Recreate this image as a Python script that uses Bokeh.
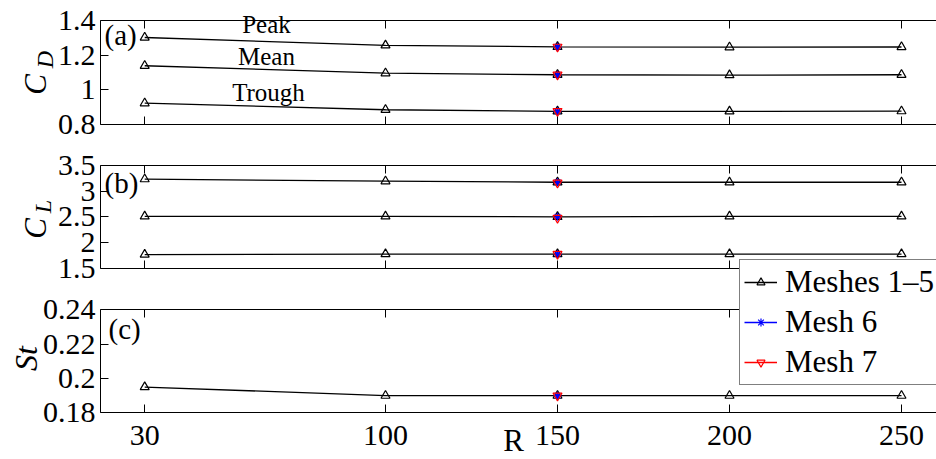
import numpy as np
from bokeh.plotting import figure
from bokeh.models import (Range1d, LinearAxis, FixedTicker, NumeralTickFormatter,
                          Label, Legend, LegendItem)
from bokeh.embed import file_html
from bokeh.resources import INLINE

# Reynolds numbers and force / shedding coefficients for meshes 1-5
R = [30, 100, 150, 200, 250]
cd_peak = [1.302, 1.257, 1.248, 1.246, 1.247]
cd_mean = [1.139, 1.096, 1.087, 1.085, 1.087]
cd_trough = [0.923, 0.885, 0.876, 0.876, 0.877]
cl_peak = [3.23, 3.19, 3.17, 3.17, 3.17]
cl_mean = [2.51, 2.51, 2.50, 2.51, 2.51]
cl_trough = [1.77, 1.78, 1.78, 1.78, 1.78]
st = [0.195, 0.190, 0.190, 0.190, 0.190]

# Refined meshes, run only at R = 150 (peak, mean, trough)
R_fine = 150
mesh6_cd = [1.248, 1.087, 0.876]
mesh7_cd = [1.248, 1.087, 0.877]
mesh6_cl = [3.17, 2.50, 1.78]
mesh7_cl = [3.16, 2.48, 1.78]
mesh6_st = [0.190]
mesh7_st = [0.190]

x_ticks = [30, 100, 150, 200, 250]
cd_ticks = [0.8, 1.0, 1.2, 1.4]
cl_ticks = [1.5, 2.0, 2.5, 3.0, 3.5]
st_ticks = [0.18, 0.20, 0.22, 0.24]

FONT = "Liberation Serif"
W, H = 936, 459

# horizontal scale: pixel positions of the first and last tick, and of the box edge
PX_FIRST, PX_LAST, PX_BOX = 144.2, 901.0, 100.0
px_per_x = (PX_LAST - PX_FIRST) / (x_ticks[-1] - x_ticks[0])
x_start = x_ticks[0] - PX_FIRST / px_per_x
x_end = x_start + W / px_per_x
x_box = x_start + PX_BOX / px_per_x


def y_range_for(lo, hi, px_top, px_bottom):
    # each panel box spans lo..hi between px_bottom and px_top (from canvas top)
    per = (px_bottom - px_top) / (hi - lo)
    return Range1d(lo - (H - px_bottom) / per, hi + px_top / per)


# three stacked panels share one canvas; each has its own vertical scale
panels = {
    "a": (0.8, 1.4, 20.0, 124.0, cd_ticks),
    "b": (1.5, 3.5, 164.7, 268.0, cl_ticks),
    "c": (0.18, 0.24, 309.3, 412.3, st_ticks),
}

p = figure(width=W, height=H, title=None,
           x_range=Range1d(x_start, x_end),
           y_range=y_range_for(*panels["a"][:4]),
           x_axis_location=None, y_axis_location=None,
           output_backend="svg", toolbar_location=None,
           min_border=0, min_border_left=0, min_border_right=0,
           min_border_top=0, min_border_bottom=0, outline_line_color=None,
           background_fill_color="white", border_fill_color="white")
p.grid.grid_line_color = None
p.grid.visible = False
p.extra_y_ranges = {k: y_range_for(*panels[k][:4]) for k in ("b", "c")}


def rname(k):
    return "default" if k == "a" else k


def style_axis(ax, ticks, labels=True, standoff=5):
    ax.ticker = FixedTicker(ticks=ticks)
    ax.axis_line_color = "black"
    ax.axis_line_width = 1
    ax.major_tick_line_color = "black"
    ax.major_tick_line_width = 1
    ax.major_tick_in = 8
    ax.major_tick_out = 0
    ax.minor_tick_line_color = None
    ax.major_label_text_font = FONT
    ax.major_label_text_font_size = "30px"
    ax.major_label_standoff = standoff
    ax.major_label_text_color = "black" if labels else None


for k, (lo, hi, _, _, yticks) in panels.items():
    left = LinearAxis(y_range_name=rname(k), fixed_location=x_box, bounds=(lo, hi))
    style_axis(left, yticks, labels=True)
    left.formatter = NumeralTickFormatter(format="0.[00]")
    p.add_layout(left, "left")
    top = LinearAxis(y_range_name=rname(k), fixed_location=hi, bounds=(x_box, x_end))
    style_axis(top, x_ticks, labels=False)
    p.add_layout(top, "above")
    bottom = LinearAxis(y_range_name=rname(k), fixed_location=lo, bounds=(x_box, x_end))
    style_axis(bottom, x_ticks, labels=(k == "c"), standoff=13)
    p.add_layout(bottom, "below")


def series(k, ys):
    l = p.line(R, ys, line_color="black", line_width=1.3, y_range_name=rname(k))
    s = p.scatter(R, ys, marker="triangle", size=9, line_color="black",
                  fill_color=None, line_width=1.2, y_range_name=rname(k))
    return l, s


def fine_points(k, y6, y7):
    xs = [R_fine] * len(y6)
    l6 = p.line(xs[:1], y6[:1], line_color="blue", line_width=1.3, y_range_name=rname(k))
    s6 = p.scatter(xs, y6, marker="asterisk", size=8, line_color="blue",
                   line_width=1.2, y_range_name=rname(k))
    l7 = p.line(xs[:1], y7[:1], line_color="red", line_width=1.3, y_range_name=rname(k))
    s7 = p.scatter(xs, y7, marker="inverted_triangle", size=9, line_color="red",
                   fill_color=None, line_width=1.2, y_range_name=rname(k))
    return (l6, s6), (l7, s7)


def text(s, x, y, size, italic=False, angle=0.0, align="left"):
    p.add_layout(Label(x=x, y=y, x_units="screen", y_units="screen", text=s,
                       text_font=FONT, text_font_size=size,
                       text_font_style="italic" if italic else "normal",
                       angle=angle, text_align=align, text_baseline="alphabetic",
                       text_color="black"))


UP = np.pi / 2

# (a) drag coefficient
for ys in (cd_peak, cd_mean, cd_trough):
    series("a", ys)
fine_points("a", mesh6_cd, mesh7_cd)
text("C", 35, 375, "31px", italic=True, angle=UP, align="center")
text("D", 44, 400, "24px", italic=True, angle=UP, align="center")
text("(a)", 104, 425, "29px")
text("Peak", 266, 435, "25px", align="center")
text("Mean", 266, 403, "25px", align="center")
text("Trough", 268, 367, "25px", align="center")

# (b) lift coefficient
for ys in (cl_peak, cl_mean, cl_trough):
    series("b", ys)
fine_points("b", mesh6_cl, mesh7_cl)
text("C", 35, 231, "31px", italic=True, angle=UP, align="center")
text("L", 42, 253, "24px", italic=True, angle=UP, align="center")
text("(b)", 104, 277, "29px")

# (c) Strouhal number
main = series("c", st)
m6, m7 = fine_points("c", mesh6_st, mesh7_st)
text("St", 25, 101, "32px", italic=True, angle=UP, align="center")
text("(c)", 108, 131, "29px")
text("R", 513, 19, "31px", align="center")

legend = Legend(items=[LegendItem(label="Meshes 1–5", renderers=list(main)),
                       LegendItem(label="Mesh 6", renderers=list(m6)),
                       LegendItem(label="Mesh 7", renderers=list(m7))],
                location=(739, 74), border_line_color="black", border_line_width=1,
                background_fill_color="white", background_fill_alpha=1.0,
                label_text_font=FONT, label_text_font_size="31px",
                label_text_color="black", glyph_width=33, glyph_height=20,
                label_standoff=8, padding=4, spacing=4, margin=0)
p.add_layout(legend)

open("out.html", "w").write(file_html(p, INLINE))
